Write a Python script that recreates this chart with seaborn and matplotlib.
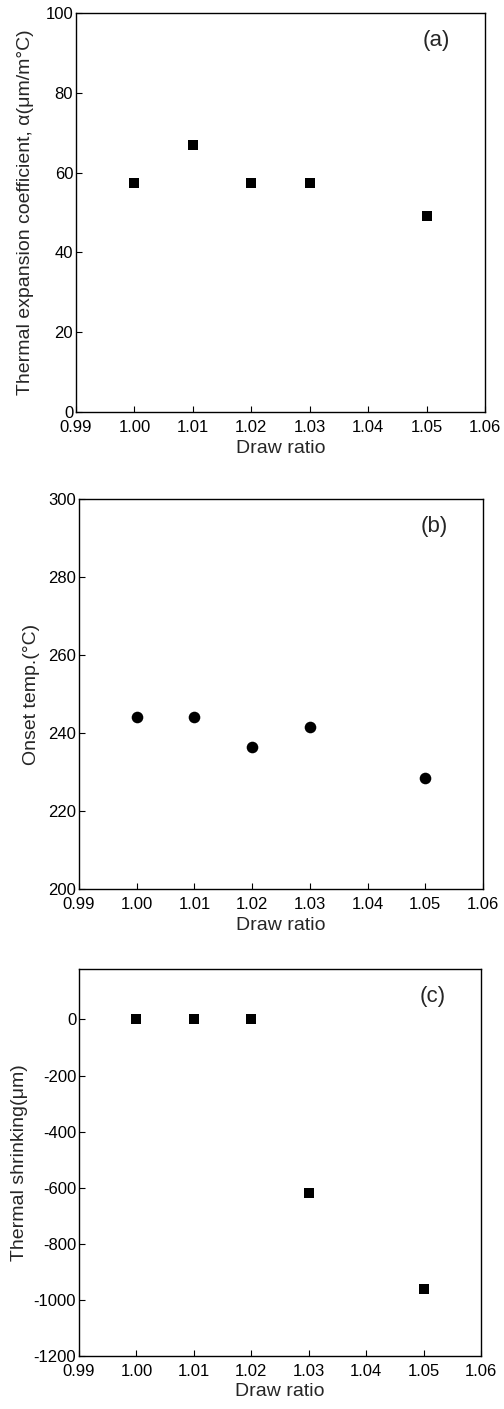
import matplotlib
matplotlib.use("Agg")
import matplotlib.pyplot as plt
import seaborn as sns
import pandas as pd

draw_ratio = [1.00, 1.01, 1.02, 1.03, 1.05]
alpha_vals = [57.5, 67.0, 57.5, 57.5, 49.0]
onset_vals = [244.0, 244.0, 236.5, 241.5, 228.5]
shrink_vals = [0, 0, 0, -620, -960]
x_ticks = [0.99, 1.00, 1.01, 1.02, 1.03, 1.04, 1.05, 1.06]

sns.set_theme(style="ticks")
plt.rcParams['font.family'] = ['Liberation Sans', 'DejaVu Sans']
plt.rcParams['axes.unicode_minus'] = False

W, H = 504, 1409
fig = plt.figure(figsize=(W / 100, H / 100), dpi=100)

def rect(l, t, r, b):
    return [l / W, 1 - b / H, (r - l) / W, (b - t) / H]

panels = [
    dict(rect=rect(76, 13, 485, 412), y=alpha_vals, marker='s', s=60,
         ylim=(0, 100), yticks=[0, 20, 40, 60, 80, 100],
         ylabel="Thermal expansion coefficient, α(μm/m°C)", tag="(a)", lp=8),
    dict(rect=rect(79, 499, 483, 889), y=onset_vals, marker='o', s=70,
         ylim=(200, 300), yticks=[200, 220, 240, 260, 280, 300],
         ylabel="Onset temp.(°C)", tag="(b)", lp=6),
    dict(rect=rect(79, 969, 481, 1356), y=shrink_vals, marker='s', s=60,
         ylim=(-1200, 180), yticks=[-1200, -1000, -800, -600, -400, -200, 0],
         ylabel="Thermal shrinking(μm)", tag="(c)", lp=4),
]

for p in panels:
    ax = fig.add_axes(p["rect"])
    df = pd.DataFrame({"Draw ratio": draw_ratio, "val": p["y"]})
    sns.scatterplot(data=df, x="Draw ratio", y="val", ax=ax, marker=p["marker"],
                    s=p["s"], color="black", edgecolor="black", linewidth=0)
    ax.set_xlim(0.99, 1.06)
    ax.set_xticks(x_ticks)
    ax.set_xticklabels([f"{v:.2f}" for v in x_ticks])
    ax.set_ylim(*p["ylim"])
    ax.set_yticks(p["yticks"])
    ax.set_xlabel("Draw ratio", fontsize=14, labelpad=3)
    ax.set_ylabel(p["ylabel"], fontsize=14, labelpad=p["lp"])
    ax.tick_params(direction='in', length=4, width=0.8, labelsize=12, colors='black')
    ax.tick_params(axis='x', pad=6)
    ax.tick_params(axis='y', pad=2)
    for sp in ax.spines.values():
        sp.set_visible(True)
        sp.set_linewidth(1.0)
        sp.set_color('black')
    ax.text(0.88, 0.93, p["tag"], transform=ax.transAxes, fontsize=16,
            ha='center', va='center')

fig.savefig("out.png", dpi=100)
